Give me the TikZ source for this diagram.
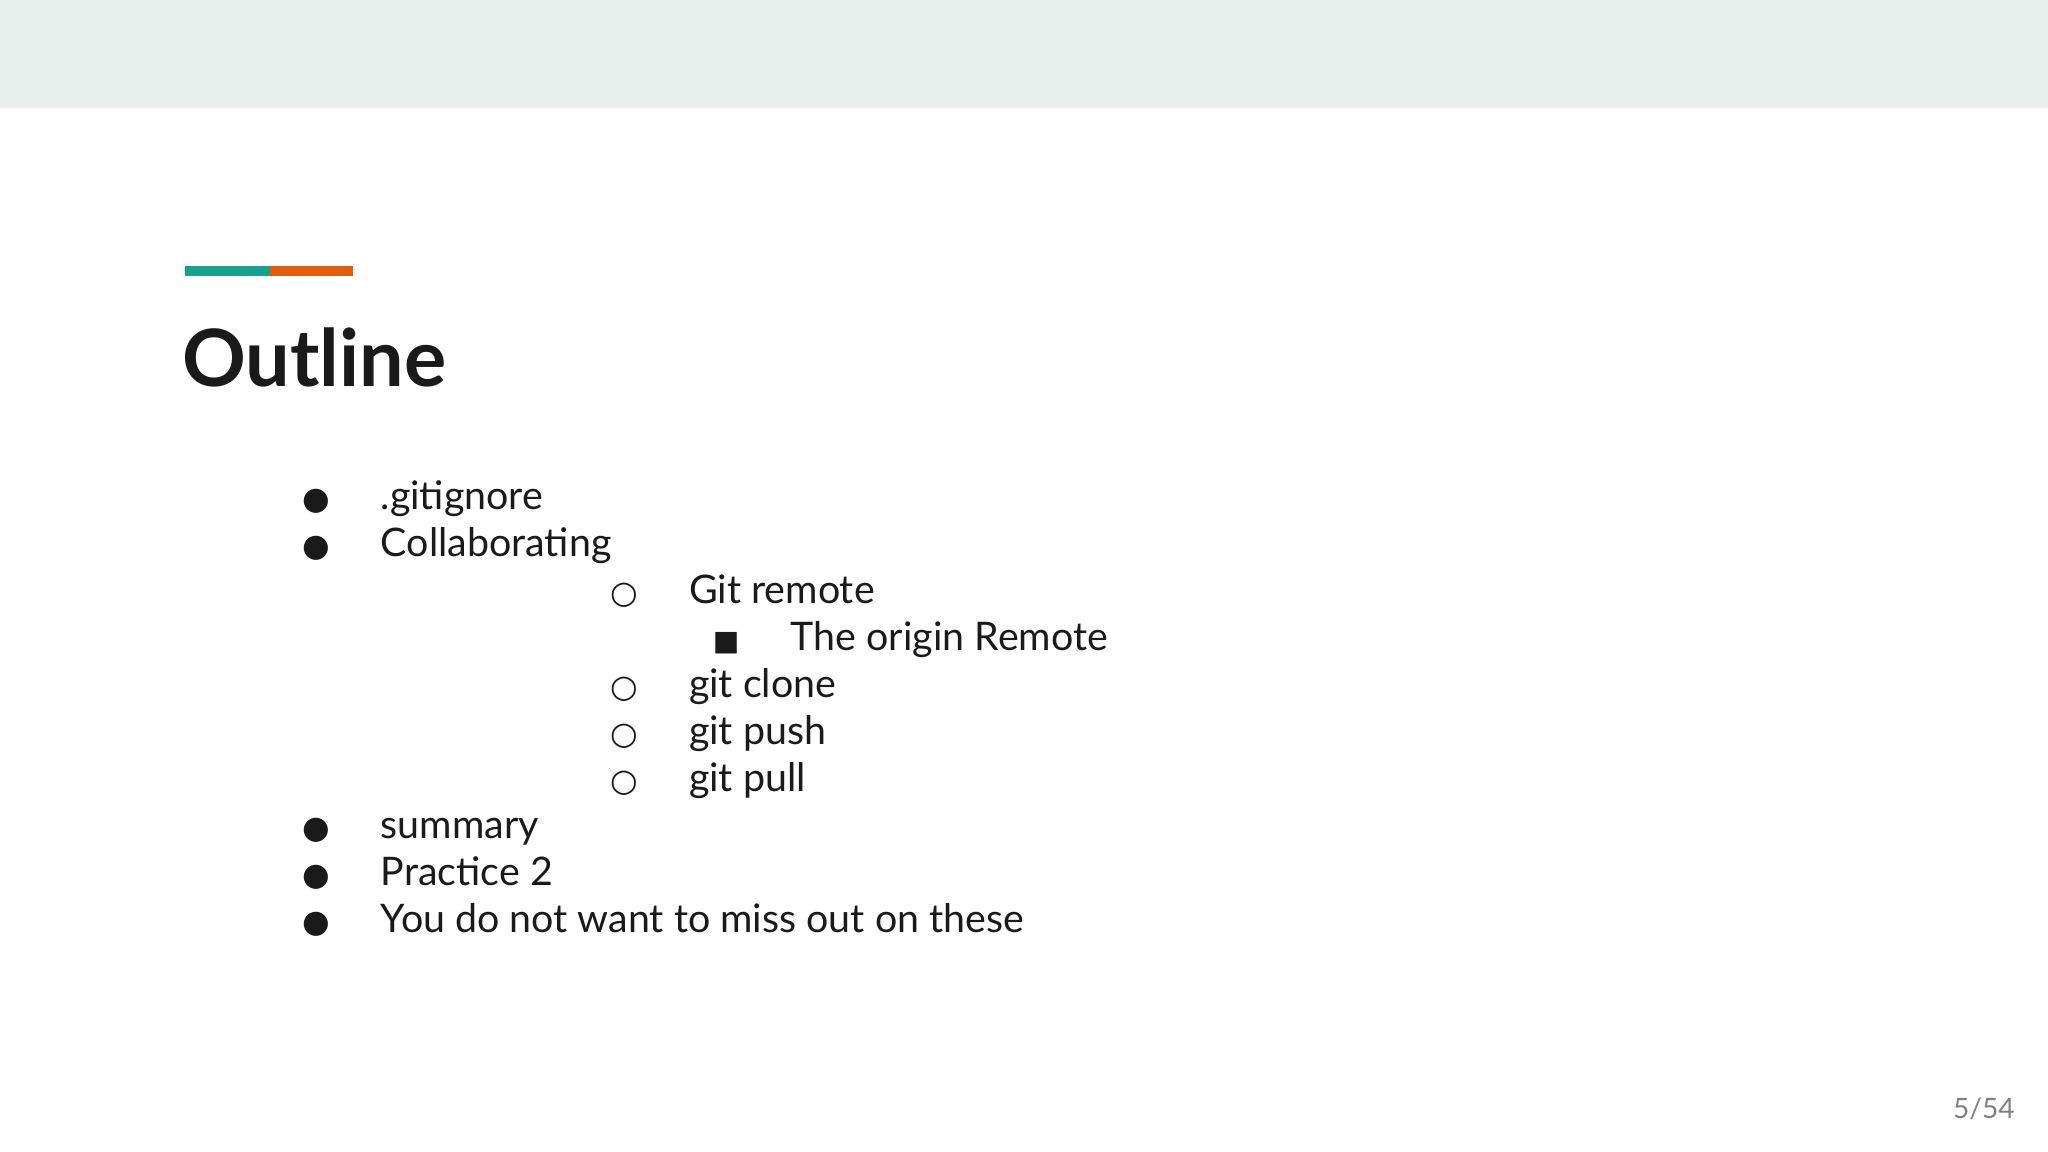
\documentclass[tikz,border=0pt]{standalone}
\usepackage{fontspec}
\setmainfont{Lato}
\newfontfamily\symf{DejaVu Sans}
\definecolor{band}{HTML}{E8EEEC}
\definecolor{teal}{HTML}{17A08E}
\definecolor{orng}{HTML}{E35B0F}
\definecolor{txt}{HTML}{1A1A1A}
\begin{document}
\begin{tikzpicture}[x=0.013061cm,y=-0.013061cm,
  item/.style={anchor=base west,inner sep=0,font=\fontsize{11.2}{13}\selectfont,text=txt},
  bul/.style={anchor=base,inner sep=0,font=\symf\fontsize{9}{11}\selectfont,text=txt}]
\useasboundingbox (0,0) rectangle (1568,882);
\fill[band] (0,0) rectangle (1568,83);
\fill[teal] (142,204) rectangle (207,211);
\fill[orng] (207,204) rectangle (270,211);
\node[anchor=base west,inner sep=0,font=\fontsize{22.5}{26}\selectfont\bfseries,text=txt] (title) at (139,296) {Outline};
\foreach \y/\t/\n in {390/.gitignore/a,426/Collaborating/b,642/summary/c,678/Practice 2/d,714/You do not want to miss out on these/e}{
  \node[bul] (b\n) at (242,\y) {●};
  \node[item] (t\n) at (291,\y) {\t};
}
\foreach \y/\t/\n in {462/Git remote/f,534/git clone/g,570/git push/h,606/git pull/i}{
  \node[bul] (b\n) at (478,\y) {○};
  \node[item] (t\n) at (527,\y) {\t};
}
\node[bul,font=\symf\fontsize{8}{10}\selectfont] (bj) at (556,498) {■};
\node[item] (tj) at (605,498) {The origin Remote};
\node[anchor=base east,inner sep=0,font=\fontsize{8}{10}\selectfont,text=gray] (pg) at (1543,856) {5/54};
\end{tikzpicture}
\end{document}
